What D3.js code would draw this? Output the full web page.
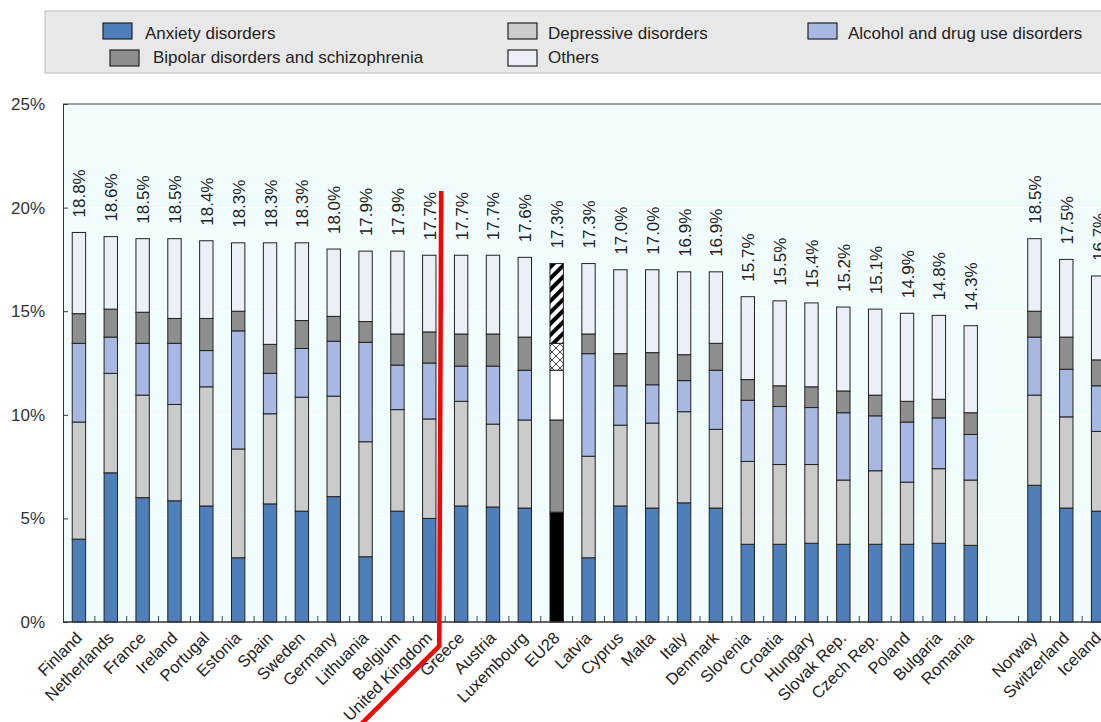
<!DOCTYPE html>
<html>
<head>
<meta charset="utf-8">
<script src="https://cdn.jsdelivr.net/npm/d3@7/dist/d3.min.js"></script>
<style>
  html, body { margin: 0; padding: 0; background: #ffffff; }
  svg { display: block; font-family: "Liberation Sans", Arial, sans-serif; }
</style>
</head>
<body>
<svg id="chart" width="1101" height="722"></svg>
<script>
// Countries in display order; the blank slot separates EU members from non-members
const countries = ["Finland","Netherlands","France","Ireland","Portugal","Estonia","Spain","Sweden","Germany","Lithuania","Belgium","United Kingdom","Greece","Austria","Luxembourg","EU28","Latvia","Cyprus","Malta","Italy","Denmark","Slovenia","Croatia","Hungary","Slovak Rep.","Czech Rep.","Poland","Bulgaria","Romania","","Norway","Switzerland","Iceland"];

// Share of population with a mental health problem, % (blank slot = null)
const anxiety    = [4.0,7.2,6.0,5.85,5.6,3.1,5.7,5.35,6.05,3.15,5.35,5.0,5.6,5.55,5.5,5.3,3.1,5.6,5.5,5.75,5.5,3.75,3.75,3.8,3.75,3.75,3.75,3.8,3.7,null,6.6,5.5,5.35];
const depressive = [5.65,4.8,4.95,4.65,5.75,5.25,4.35,5.5,4.85,5.55,4.9,4.8,5.05,4.0,4.25,4.45,4.9,3.9,4.1,4.4,3.8,4.0,3.85,3.8,3.1,3.55,3.0,3.6,3.15,null,4.35,4.4,3.85];
const alcohol    = [3.8,1.75,2.5,2.95,1.75,5.7,1.95,2.35,2.65,4.8,2.15,2.7,1.7,2.8,2.4,2.4,4.95,1.9,1.85,1.5,2.85,2.95,2.8,2.75,3.25,2.65,2.9,2.45,2.2,null,2.8,2.3,2.2];
const bipolar    = [1.43,1.35,1.5,1.2,1.55,0.95,1.4,1.35,1.2,1.0,1.5,1.5,1.55,1.55,1.6,1.3,0.95,1.55,1.55,1.25,1.3,1.0,1.0,1.0,1.05,1.0,1.0,0.9,1.05,null,1.25,1.55,1.25];
const totals     = [18.8,18.6,18.5,18.5,18.4,18.3,18.3,18.3,18.0,17.9,17.9,17.7,17.7,17.7,17.6,17.3,17.3,17.0,17.0,16.9,16.9,15.7,15.5,15.4,15.2,15.1,14.9,14.8,14.3,null,18.5,17.5,16.7];

const seriesKeys   = ["anxiety","depressive","alcohol","bipolar","others"];
const seriesLabels = ["Anxiety disorders","Depressive disorders","Alcohol and drug use disorders","Bipolar disorders and schizophrenia","Others"];
const yTicks = [0,5,10,15,20,25];

// The remainder of each total is the "Others" category
const rows = countries.map((c, i) => {
  if (totals[i] == null) return null;
  const r = { country: c, anxiety: anxiety[i], depressive: depressive[i], alcohol: alcohol[i], bipolar: bipolar[i], total: totals[i] };
  r.others = +(totals[i] - anxiety[i] - depressive[i] - alcohol[i] - bipolar[i]).toFixed(3);
  return r;
}).filter(Boolean);

const colors = { anxiety: "#4f7fbb", depressive: "#cbcbcb", alcohol: "#a7b8e3", bipolar: "#8e8e8e", others: "#eceff8" };

const svg = d3.select("#chart");
const defs = svg.append("defs");

// EU28 aggregate is drawn in black/white patterns
const cross = defs.append("pattern").attr("id", "eu-cross").attr("patternUnits", "userSpaceOnUse")
  .attr("width", 8).attr("height", 8);
cross.append("rect").attr("width", 8).attr("height", 8).attr("fill", "#fff");
cross.append("path").attr("d", "M0,0L8,8M8,0L0,8").attr("stroke", "#333").attr("stroke-width", 0.9);
const stripes = defs.append("pattern").attr("id", "eu-stripes").attr("patternUnits", "userSpaceOnUse")
  .attr("width", 8).attr("height", 8).attr("patternTransform", "rotate(45)");
stripes.append("rect").attr("width", 8).attr("height", 8).attr("fill", "#fff");
stripes.append("rect").attr("width", 4).attr("height", 8).attr("fill", "#000");
const euFill = { anxiety: "#000000", depressive: "#8e8e8e", alcohol: "#ffffff", bipolar: "url(#eu-cross)", others: "url(#eu-stripes)" };

const margin = { left: 63, top: 104, bottom: 622 };
const step = 31.85;
const keyOf = (c, i) => c || "_gap" + i;
const x = d3.scaleBand().domain(countries.map(keyOf))
  .range([margin.left, margin.left + step * countries.length]).padding(0);
const y = d3.scaleLinear().domain([0, 25]).range([margin.bottom, margin.top]);
const barW = x.bandwidth() * 0.42;

// Plot background
svg.append("rect").attr("x", margin.left).attr("y", margin.top)
  .attr("width", 1101 - margin.left).attr("height", margin.bottom - margin.top)
  .attr("fill", "#f1fdfd");

// Horizontal grid lines
svg.append("g").selectAll("line").data(yTicks.filter(t => t > 0 && t < 25)).join("line")
  .attr("x1", margin.left).attr("x2", 1101)
  .attr("y1", d => y(d)).attr("y2", d => y(d))
  .attr("stroke", "#ffffff").attr("stroke-width", 1);

// Stacked bars
const stacked = d3.stack().keys(seriesKeys)(rows);
const gBars = svg.append("g");
stacked.forEach(layer => {
  gBars.append("g").selectAll("rect").data(layer).join("rect")
    .attr("x", d => x(d.data.country) + (x.bandwidth() - barW) / 2)
    .attr("width", barW)
    .attr("y", d => y(d[1]))
    .attr("height", d => y(d[0]) - y(d[1]))
    .attr("fill", d => d.data.country === "EU28" ? euFill[layer.key] : colors[layer.key])
    .attr("stroke", "#222").attr("stroke-width", 1);
});

// Total value labels above bars
svg.append("g").selectAll("text").data(rows).join("text")
  .attr("transform", d => `translate(${x(d.country) + x.bandwidth() / 2 + 6.5},${y(d.total) - 15}) rotate(-90)`)
  .attr("font-size", 17).attr("fill", "#222")
  .text(d => d.total.toFixed(1) + "%");

// Y axis with ticks pointing into the plot
const yAxis = d3.axisLeft(y).tickValues(yTicks).tickFormat(d => d + "%").tickSizeInner(-5).tickSizeOuter(0).tickPadding(18);
const gy = svg.append("g").attr("transform", `translate(${margin.left},0)`).call(yAxis);
gy.select(".domain").attr("stroke", "#333");
gy.selectAll(".tick line").attr("stroke", "#333");
gy.selectAll("text").attr("font-size", 17).attr("fill", "#333").attr("font-family", "Liberation Sans, Arial, sans-serif");

// Top frame line
svg.append("line").attr("x1", margin.left).attr("x2", 1101).attr("y1", margin.top).attr("y2", margin.top)
  .attr("stroke", "#444").attr("stroke-width", 1.2);

// X axis: ticks between categories
const gx = svg.append("g");
gx.append("line").attr("x1", margin.left).attr("x2", 1101).attr("y1", margin.bottom).attr("y2", margin.bottom)
  .attr("stroke", "#333").attr("stroke-width", 1.4);
gx.selectAll("line.tk").data(countries.slice(1)).join("line").attr("class", "tk")
  .attr("x1", (c, i) => x(keyOf(c, i + 1))).attr("x2", (c, i) => x(keyOf(c, i + 1)))
  .attr("y1", margin.bottom).attr("y2", margin.bottom - 6)
  .attr("stroke", "#444");
gx.selectAll("text").data(rows).join("text")
  .attr("transform", d => `translate(${x(d.country) + x.bandwidth() / 2 + 4},${margin.bottom + 17}) rotate(-45)`)
  .attr("text-anchor", "end").attr("font-size", 16.5).attr("fill", "#222")
  .text(d => d.country);

// Divider drawn after the United Kingdom
const divX = x("Greece") - 6;
const divTop = y(20.8), divBend = margin.bottom + 24;
svg.append("path")
  .attr("d", `M${divX + 2},${divTop}L${divX},${divBend}L${divX - 120},${divBend + 120}`)
  .attr("fill", "none").attr("stroke", "#ff0000").attr("stroke-width", 4.5);

// Legend
const legend = svg.append("g");
legend.append("rect").attr("x", 45).attr("y", 11).attr("width", 1060).attr("height", 62)
  .attr("fill", "#e8e8e8").attr("stroke", "#bdbdbd");
const legendPos = [
  { key: "anxiety", sx: 103, sy: 23, tx: 145, ty: 39 },
  { key: "depressive", sx: 508, sy: 23, tx: 548, ty: 39 },
  { key: "alcohol", sx: 808, sy: 23, tx: 848, ty: 39 },
  { key: "bipolar", sx: 110, sy: 50, tx: 153, ty: 63 },
  { key: "others", sx: 508, sy: 50, tx: 548, ty: 63 }
];
legendPos.forEach(p => {
  legend.append("rect").attr("x", p.sx).attr("y", p.sy).attr("width", 29).attr("height", 16)
    .attr("fill", colors[p.key]).attr("stroke", "#222").attr("stroke-width", 1.2);
  legend.append("text").attr("x", p.tx).attr("y", p.ty)
    .attr("font-size", 17).attr("fill", "#222")
    .text(seriesLabels[seriesKeys.indexOf(p.key)]);
});
</script>
</body>
</html>
